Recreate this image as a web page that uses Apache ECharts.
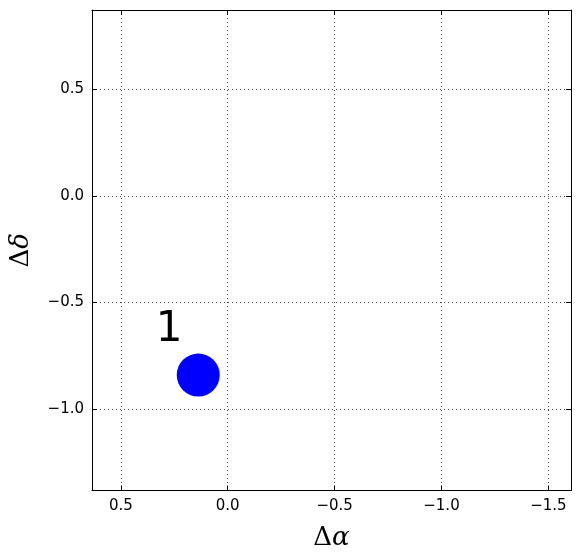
<!DOCTYPE html>
<html>
<head>
<meta charset="utf-8">
<script src="https://cdn.jsdelivr.net/npm/echarts@6/dist/echarts.min.js"></script>
<style>html,body{margin:0;padding:0;background:#fff;}#chart{width:580px;height:558px;}</style>
</head>
<body>
<div id="chart"></div>
<script>
// Data
const pointX = [0.138];
const pointY = [-0.840];
const pointLabels = ['1'];
const xRange = [-1.606, 0.635];
const yRange = [-1.381, 0.871];
const xTitle = ['Δ', 'α'];
const yTitle = ['Δ', 'δ'];

const chart = echarts.init(document.getElementById('chart'), null, {renderer: 'canvas'});

function fmt(v) {
  const r = Math.round(v * 2) / 2;
  if (Math.abs(r - v) > 1e-6) return '';
  return r.toFixed(1).replace('-', '\u2212');
}

const tickFont = {fontFamily: 'DejaVu Sans', fontSize: 15, color: '#000'};
const gridLine = {show: true, lineStyle: {color: '#444', width: 1, type: [1, 3]}};
const axisLineStyle = {show: true, onZero: false, lineStyle: {color: '#000', width: 1}};
const titleRich = {
  u: {fontFamily: 'DejaVu Serif', fontSize: 26, color: '#000', fontStyle: 'normal'},
  i: {fontFamily: 'DejaVu Serif', fontSize: 26, color: '#000', fontStyle: 'italic'}
};
function titleText(t) { return '{u|' + t[0] + '}{i|' + t[1] + '}'; }

function mkX(pos, main) {
  return {
    type: 'value', position: pos, inverse: true,
    min: xRange[0], max: xRange[1], splitNumber: 5,
    axisLine: axisLineStyle,
    axisTick: {show: true, inside: true, length: 5, lineStyle: {color: '#000'}},
    axisLabel: main ? Object.assign({show: true, margin: 8, formatter: fmt, showMinLabel: false, showMaxLabel: false}, tickFont) : {show: false},
    splitLine: main ? gridLine : {show: false},
    name: main ? titleText(xTitle) : '',
    nameLocation: 'middle', nameGap: 35,
    nameTextStyle: {rich: titleRich}
  };
}
function mkY(pos, main) {
  return {
    type: 'value', position: pos,
    min: yRange[0], max: yRange[1], splitNumber: 5,
    axisLine: axisLineStyle,
    axisTick: {show: true, inside: true, length: 5, lineStyle: {color: '#000'}},
    axisLabel: main ? Object.assign({show: true, margin: 8, formatter: fmt, showMinLabel: false, showMaxLabel: false}, tickFont) : {show: false},
    splitLine: main ? gridLine : {show: false},
    name: main ? titleText(yTitle) : '',
    nameLocation: 'middle', nameGap: 58, nameRotate: 90,
    nameTextStyle: {rich: titleRich}
  };
}

chart.setOption({
  animation: false,
  backgroundColor: '#fff',
  grid: {left: 91.5, right: 9, top: 10, bottom: 67.5, containLabel: false},
  xAxis: [mkX('bottom', true), mkX('top', false)],
  yAxis: [mkY('left', true), mkY('right', false)],
  series: [{
    type: 'scatter',
    xAxisIndex: 0, yAxisIndex: 0,
    symbol: 'circle', symbolSize: 43,
    itemStyle: {color: '#0000ff', opacity: 1},
    data: pointX.map((x, i) => ({value: [x, pointY[i]], name: pointLabels[i]})),
    label: {
      show: true, position: 'inside', offset: [-29, -45],
      formatter: p => p.name,
      fontFamily: 'DejaVu Sans', fontSize: 42, color: '#000'
    }
  }]
});
</script>
</body>
</html>
